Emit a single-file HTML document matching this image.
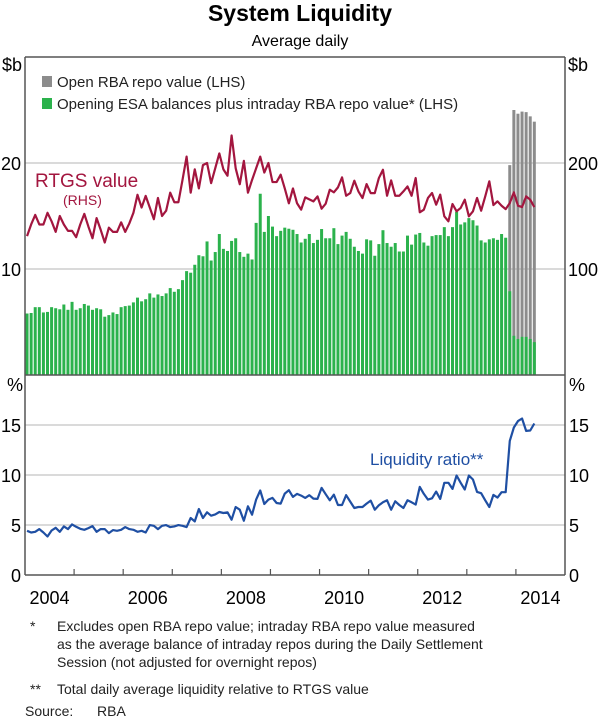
<!DOCTYPE html>
<html><head><meta charset="utf-8"><style>
body{margin:0;background:#fff;}
svg{display:block;font-family:"Liberation Sans",sans-serif;}
</style></head><body>
<svg id="chart" width="600" height="720" viewBox="0 0 600 720" xmlns="http://www.w3.org/2000/svg">
<text x="300" y="21" text-anchor="middle" font-size="23" font-weight="bold">System Liquidity</text>
<text x="300" y="46" text-anchor="middle" font-size="16">Average daily</text>
<g id="grid"></g>
<g id="bars"></g>
<g id="lines"></g>
<g id="axes"></g>
<g>
<rect x="42" y="76" width="10" height="11" fill="#8c8c8c"/>
<text x="57" y="87" font-size="15" fill="#222">Open RBA repo value (LHS)</text>
<rect x="42" y="98" width="10" height="11" fill="#2bb24c"/>
<text x="57" y="109" font-size="15" fill="#222">Opening ESA balances plus intraday RBA repo value* (LHS)</text>
</g>
<text x="35" y="187" font-size="19" fill="#a3163f">RTGS value</text>
<text x="63" y="205" font-size="14" fill="#a3163f">(RHS)</text>
<text x="370" y="465" font-size="17" fill="#1f4fa3">Liquidity ratio**</text>
<g font-size="14" fill="#222">
<text x="30" y="631">*</text>
<text x="57" y="631">Excludes open RBA repo value; intraday RBA repo value measured</text>
<text x="57" y="649">as the average balance of intraday repos during the Daily Settlement</text>
<text x="57" y="667">Session (not adjusted for overnight repos)</text>
<text x="30" y="694">**</text>
<text x="57" y="694">Total daily average liquidity relative to RTGS value</text>
<text x="25" y="716">Source:</text>
<text x="97" y="716">RBA</text>
</g>
</svg>
<script>
const esa=[5.8,5.85,6.4,6.4,5.9,5.95,6.4,6.3,6.2,6.65,6.15,6.9,6.15,6.3,6.7,6.55,6.15,6.3,6.2,5.5,5.65,5.9,5.75,6.4,6.5,6.55,6.85,7.3,6.95,7.15,7.7,7.3,7.6,7.45,7.7,8.2,7.85,8.1,8.95,9.8,9.65,10.4,11.3,11.2,12.6,10.8,11.6,13.3,11.9,11.7,12.65,12.9,11.6,11.15,11.45,10.9,14.35,17.1,13.5,15.0,14.0,13.1,13.6,13.9,13.8,13.7,13.3,12.5,12.85,13.3,12.45,12.75,13.77,12.9,12.9,13.85,12.35,13.15,13.5,12.85,12.1,11.7,11.45,12.8,12.7,11.25,12.35,13.66,12.45,12.1,12.45,11.65,11.65,13.15,12.3,13.25,13.4,12.5,12.2,13.1,13.2,13.2,13.95,13.1,13.95,15.4,14.2,14.4,14.8,14.6,14.1,12.7,12.5,12.8,12.9,12.75,13.3,12.95,7.9,3.7,3.4,3.6,3.6,3.4,3.1];
const repo=[0,0,0,0,0,0,0,0,0,0,0,0,0,0,0,0,0,0,0,0,0,0,0,0,0,0,0,0,0,0,0,0,0,0,0,0,0,0,0,0,0,0,0,0,0,0,0,0,0,0,0,0,0,0,0,0,0,0,0,0,0,0,0,0,0,0,0,0,0,0,0,0,0,0,0,0,0,0,0,0,0,0,0,0,0,0,0,0,0,0,0,0,0,0,0,0,0,0,0,0,0,0,0,0,0,0,0,0,0,0,0,0,0,0,0,0,0,0,11.9,21.3,21.25,21.25,21.2,21.0,20.8];
const rtgs=[131,142,151,142,142,153,145,135,150,142,136,136,130,142,152,140,129,148,137,125,139,135,135,144,135,143,153,170,158,169,158,147,167,150,155,172,163,163,184,206,172,194,176,198,200,181,195,209,194,188,226,195,180,202,172,184,195,206,191,200,182,182,189,176,162,176,162,156,167.6,165.7,163.8,168.5,156.9,161.6,174.8,172.3,177,186.4,169.1,171.6,183.3,173.2,166.9,180.1,171.6,171.6,185.8,193.6,169.1,183.6,169.1,169.1,173.2,177.9,169.1,185.8,153.5,156,167,171.7,160.7,170.2,149.7,145,161.3,154.4,157.6,165.4,149.7,154.4,167,155,168.5,182.7,160.3,163.8,159.7,156.5,162.2,172.3,159.7,158.4,168.5,165.4,158.4];
const ratio=[4.42,4.25,4.32,4.59,4.25,3.85,4.45,4.72,4.32,4.86,4.59,5.06,4.82,4.62,4.52,4.69,4.89,4.32,4.59,4.59,4.19,4.49,4.42,4.52,4.79,4.59,4.52,4.32,4.42,4.25,4.99,4.92,4.59,4.92,4.99,4.79,4.86,4.99,4.92,4.79,5.7,5.36,6.6,5.7,6.27,5.93,6.06,6.3,6.2,6.27,5.53,6.8,6.53,5.43,6.87,6.03,7.54,8.45,7.1,7.54,7.71,7.2,7.14,8.14,8.48,7.81,8.11,7.94,7.71,7.98,7.64,7.61,8.71,8.08,7.47,8.04,7.0,7.0,7.98,7.34,6.7,6.8,6.8,7.14,7.44,6.53,6.97,7.27,7.47,6.53,7.37,7.0,6.7,7.47,7.27,7.04,8.81,8.11,7.54,7.67,8.34,7.61,9.22,9.22,8.61,9.95,9.22,8.55,9.95,9.55,8.31,8.18,7.47,6.8,8.01,7.74,8.28,8.28,13.41,14.75,15.39,15.65,14.41,14.45,15.15];
const yearLabels=["2004","2006","2008","2010","2012","2014"];
const lhsTicks=[10,20];
const rhsTicks=[100,200];
const pctTicks=[0,5,10,15];

const NS="http://www.w3.org/2000/svg";
const L=25,R=565,T1=57,B1=375,B2=575;
const monthW=(R-L)/132;
const xM=i=>L+(i+0.5)*monthW;
const yL=v=>B1-(v/30)*(B1-T1);
const yR=v=>B1-(v/300)*(B1-T1);
const yP=v=>B2-(v/20)*(B2-B1);
function mk(tag,attrs,parent){const e=document.createElementNS(NS,tag);for(const k in attrs)e.setAttribute(k,attrs[k]);parent.appendChild(e);return e;}
const grid=document.getElementById('grid'),bars=document.getElementById('bars'),lines=document.getElementById('lines'),axes=document.getElementById('axes');

lhsTicks.forEach(v=>{const g=mk('line',{x1:L,x2:R,y1:yL(v),y2:yL(v),stroke:'#c4c4c4','stroke-width':1.3},grid);


const t=mk('text',{x:21,y:yL(v)+7,'text-anchor':'end','font-size':18},axes);t.textContent=v;

});
rhsTicks.forEach(v=>{const t=mk('text',{x:568,y:yR(v)+7,'font-size':18},axes);t.textContent=v;

});
pctTicks.forEach(v=>{if(v>0){const g=mk('line',{x1:L,x2:R,y1:yP(v),y2:yP(v),stroke:'#c4c4c4','stroke-width':1.3},grid);

}
const t=mk('text',{x:21,y:yP(v)+7,'text-anchor':'end','font-size':18},axes);t.textContent=v;


const t2=mk('text',{x:569,y:yP(v)+7,'font-size':18},axes);t2.textContent=v;

});
[['$b',2,71],['$b',568,71],['%',7,391],['%',569,391]].forEach(a=>{const t=mk('text',{x:a[1],y:a[2],'font-size':18},axes);t.textContent=a[0];

});

esa.forEach((v,i)=>{const x=xM(i)-1.5;
if(repo[i]>0){const g=mk('rect',{x:x,y:yL(v+repo[i]),width:3,height:B1-yL(v+repo[i]),fill:'#8c8c8c'},bars);

}
const b=mk('rect',{x:x,y:yL(v),width:3,height:B1-yL(v),fill:'#2bb24c'},bars);

});

const p1=mk('polyline',{points:rtgs.map((v,i)=>xM(i)+','+yR(v)).join(' '),fill:'none',stroke:'#a3163f','stroke-width':2.2,'stroke-linejoin':'round'},lines);


const p2=mk('polyline',{points:ratio.map((v,i)=>xM(i)+','+yP(v)).join(' '),fill:'none',stroke:'#1f4fa3','stroke-width':2.2,'stroke-linejoin':'round'},lines);



[[L,T1,L,B2],[R,T1,R,B2],[L,T1,R,T1],[L,B1,R,B1],[L,B2,R,B2]].forEach(a=>{const l=mk('line',{x1:a[0],y1:a[1],x2:a[2],y2:a[3],stroke:'#555','stroke-width':1.5},axes);

});
for(let y=1;y<11;y++){const x=L+y*12*monthW;const l=mk('line',{x1:x,x2:x,y1:B2,y2:B2-6,stroke:'#555','stroke-width':1.2},axes);

}
yearLabels.forEach((s,k)=>{const x=L+(k*24+6)*monthW;const t=mk('text',{x:x,y:604,'text-anchor':'middle','font-size':18},axes);t.textContent=s;

});
</script>
</body></html>
